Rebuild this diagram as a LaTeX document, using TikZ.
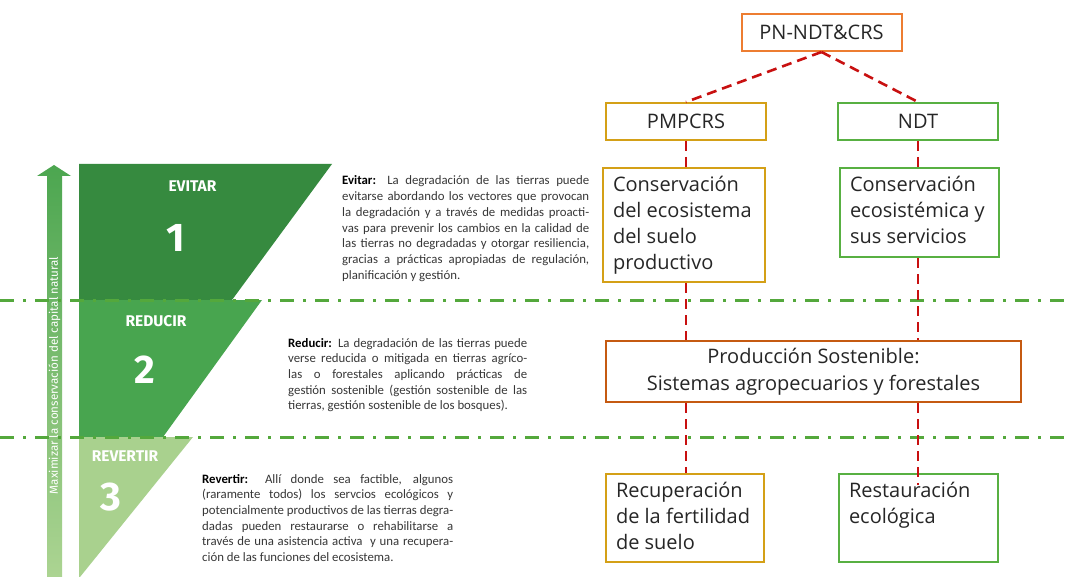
\documentclass[tikz,border=0pt]{standalone}
\usepackage{fontspec}
\setmainfont{Open Sans}
\newfontfamily\descfont{Carlito}
\newfontfamily\labfont{Fira Sans}
\usetikzlibrary{calc}
\definecolor{evitarc}{RGB}{54,138,63}
\definecolor{reducirc}{RGB}{72,165,79}
\definecolor{revertirc}{RGB}{169,209,142}
\definecolor{arrtop}{RGB}{76,166,80}
\definecolor{arrbot}{RGB}{172,212,146}
\definecolor{lgreen}{RGB}{84,168,60}
\definecolor{redc}{RGB}{200,16,16}
\definecolor{orangec}{RGB}{237,125,49}
\definecolor{goldc}{RGB}{212,160,23}
\definecolor{greenc}{RGB}{88,176,66}
\definecolor{brownc}{RGB}{197,90,17}
\definecolor{descgray}{RGB}{55,55,55}
\newcommand\bxt[3]{\begin{minipage}[t][#2][t]{#1}\fontsize{20}{26}\selectfont\raggedright\leftskip=10pt #3\end{minipage}}
\begin{document}
\begin{tikzpicture}[x=1pt,y=-1pt,
  box/.style={draw, line width=2pt, fill=white, inner sep=0pt, text=black!85},
  hdr/.style={box, minimum width=160pt, minimum height=37pt, font=\fontsize{20}{24}\selectfont},
  tbox/.style={box, anchor=north west, inner xsep=0pt, inner ysep=8pt},
  reddash/.style={draw=redc, line width=2.6pt, dash pattern=on 10pt off 6pt},
  greenline/.style={draw=lgreen, line width=3pt, dash pattern=on 14pt off 9pt on 3pt off 9pt},
  lab/.style={text=white, inner sep=0pt, font=\labfont\bfseries\fontsize{15.5}{17}\selectfont},
  num/.style={text=white, inner sep=0pt, font=\labfont\bfseries\fontsize{40}{44}\selectfont},
  desc/.style={anchor=base west, inner sep=0pt, align=justify, text=descgray,
    font=\descfont\fontsize{12.8}{15.67}\selectfont}]
\useasboundingbox (0,0) rectangle (1070,577);
\fill[white] (0,0) rectangle (1070,577);
% stages
\fill[evitarc] (79,164) -- (332,164) -- (232,300) -- (79,300) -- cycle;
\fill[reducirc] (79,300) -- (262,300) -- (163,437) -- (79,437) -- cycle;
\fill[revertirc] (79,437) -- (193,437) -- (80,577) -- (79,577) -- cycle;
% vertical arrow
\shade[top color=arrtop, bottom color=arrbot] (47,577) -- (47,176) -- (37,176) -- (54,165) -- (71,176) -- (62,176) -- (62,577) -- cycle;
\node[rotate=90, text=white, inner sep=0pt, font=\labfont\fontsize{11.6}{13}\selectfont] (axis) at (54.5,375.5) {Maximizar la conservación del capital natural};
\node[lab] (evt) at (192.5,186) {EVITAR};
\node[num] (n1) at (176,238) {1};
\node[lab] (red) at (156,321) {REDUCIR};
\node[num] (n2) at (145,370) {2};
\node[lab] (rev) at (125,456.5) {REVERTIR};
\node[num] (n3) at (111,497) {3};
% separators
\draw[greenline] (0,300) -- (1070,300);
\draw[greenline] (0,437) -- (1070,437);
% descriptions
\node[desc, text width=247pt] (devt) at (342,185) {\textbf{\color{black}Evitar:} La degradación de las tierras puede\linebreak
evitarse abordando los vectores que provocan\linebreak
la degradación y a través de medidas proacti-\linebreak
vas para prevenir los cambios en la calidad de\linebreak
las tierras no degradadas y otorgar resiliencia,\linebreak
gracias a prácticas apropiadas de regulación,\linebreak
planificación y gestión.};
\node[desc, text width=239pt] (dred) at (288,347) {\textbf{\color{black}Reducir:} La degradación de las tierras puede\linebreak
verse reducida o mitigada en tierras agríco-\linebreak
las o forestales aplicando prácticas de\linebreak
gestión sostenible (gestión sostenible de las\linebreak
tierras, gestión sostenible de los bosques).};
\node[desc, text width=251pt] (drev) at (202,483) {\textbf{\color{black}Revertir:} Allí donde sea factible, algunos\linebreak
(raramente todos) los servcios ecológicos y\linebreak
potencialmente productivos de las tierras degra-\linebreak
dadas pueden restaurarse o rehabilitarse a\linebreak
través de una asistencia activa\ \ y una recupera-\linebreak
ción de las funciones del ecosistema.};
% right side
\node[hdr, draw=orangec] (pn) at (821.5,32.5) {PN-NDT\&CRS};
\node[hdr, draw=goldc] (pm) at (686,121.5) {PMPCRS};
\node[hdr, draw=greenc] (ndt) at (918,121.5) {NDT};
\node[tbox, draw=goldc] (cons1) at (602,167) {\bxt{162pt}{98pt}{Conservación\\del ecosistema\\del suelo\\productivo}};
\node[tbox, draw=greenc] (cons2) at (839,167) {\bxt{159pt}{73pt}{Conservación\\ecosistémica y\\sus servicios}};
\node[box, draw=brownc, minimum width=415pt, minimum height=61pt, align=center, font=\fontsize{20}{27}\selectfont] (prod) at (813.5,371.5) {Producción Sostenible:\\Sistemas agropecuarios y forestales};
\node[tbox, draw=goldc] (rec) at (605,473) {\bxt{158pt}{72pt}{Recuperación\\de la fertilidad\\de suelo}};
\node[tbox, draw=greenc] (rest) at (838,473) {\bxt{159pt}{72pt}{Restauración\\ecológica}};
% connectors
\draw[reddash] (pn.south) -- (pm.north);
\draw[reddash] (pn.south) -- (ndt.north);
\draw[reddash] (pm.south) -- (pm.south |- cons1.north);
\draw[reddash] (pm.south |- cons1.south) -- (pm.south |- prod.north);
\draw[reddash] (pm.south |- prod.south) -- (pm.south |- rec.north);
\draw[reddash] (ndt.south) -- (ndt.south |- cons2.north);
\draw[reddash] (ndt.south |- cons2.south) -- (ndt.south |- prod.north);
\coordinate (restin) at ($(ndt.south |- rest.north)+(0,12)$);
\draw[reddash] (ndt.south |- prod.south) -- (restin);
\end{tikzpicture}
\end{document}
